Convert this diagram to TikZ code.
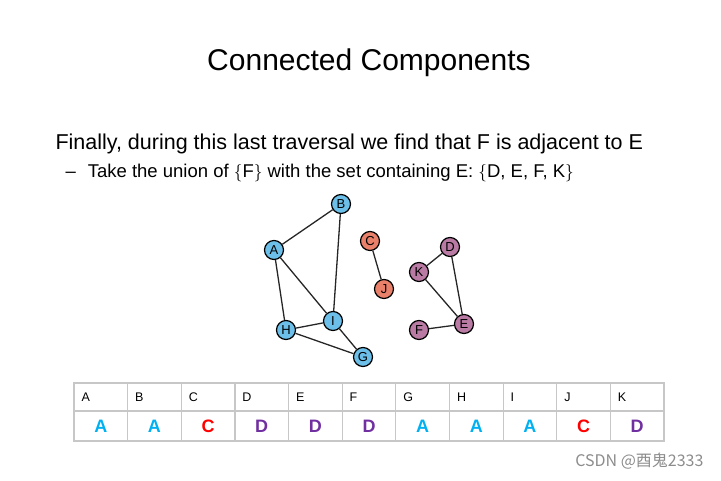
\documentclass[tikz,border=0pt]{standalone}
\usepackage{fontspec}
\setmainfont{Liberation Sans}
\newfontfamily\cjk{Noto Sans CJK SC}
\definecolor{nb}{HTML}{6CBFE8}
\definecolor{no}{HTML}{E8806A}
\definecolor{np}{HTML}{B97BA3}
\definecolor{tb}{HTML}{00B0F0}
\definecolor{tr}{HTML}{FF0000}
\definecolor{tp}{HTML}{7030A0}
\begin{document}
\begin{tikzpicture}[x=1pt,y=-1pt,
  v/.style={circle,draw=black,line width=1.2pt,minimum size=19pt,inner sep=0pt,font=\fontsize{13}{13}\selectfont},
  e/.style={line width=1.3pt,draw=black!85},
  hd/.style={font=\fontsize{12.5}{14}\selectfont,anchor=west},
  val/.style={font=\fontsize{18}{18}\selectfont\bfseries}]
\useasboundingbox (0,0) rectangle (721,480);
\node[font=\fontsize{30}{34}\selectfont] (title) at (369,63) {Connected Components};
\node[font=\fontsize{21.5}{25}\selectfont,anchor=west] (l1) at (52,144) {Finally, during this last traversal we find that F is adjacent to E};
\node[font=\fontsize{18.5}{22}\selectfont,anchor=west] (l2) at (62,173) {–\hspace{12pt}Take the union of $\{$F$\}$ with the set containing E: $\{$D, E, F, K$\}$};
\node[v,fill=nb] (B) at (341,204) {B};
\node[v,fill=nb] (A) at (274,250) {A};
\node[v,fill=nb] (I) at (333,321) {I};
\node[v,fill=nb] (H) at (286,330) {H};
\node[v,fill=nb] (G) at (363,357) {G};
\node[v,fill=no] (C) at (370,241) {C};
\node[v,fill=no] (J) at (384,289) {J};
\node[v,fill=np] (D) at (450,247) {D};
\node[v,fill=np] (K) at (419,272) {K};
\node[v,fill=np] (E) at (464,324) {E};
\node[v,fill=np] (F) at (419,330) {F};
\draw[e] (A)--(B) (B)--(I) (A)--(I) (A)--(H) (H)--(I) (H)--(G) (I)--(G) (C)--(J) (K)--(D) (D)--(E) (K)--(E) (F)--(E);
\draw[black!22,line width=1.2pt] (74,383) rectangle (664,441) (74,411)--(664,411);
\foreach \i/\h/\c/\t in {0/A/tb/A,1/B/tb/A,2/C/tr/C,3/D/tp/D,4/E/tp/D,5/F/tp/D,6/G/tb/A,7/H/tb/A,8/I/tb/A,9/J/tr/C,10/K/tp/D}{
  \pgfmathsetmacro\xl{74+\i*53.64}
  \ifnum\i>0 \draw[black!22,line width=1.2pt] (\xl,383)--(\xl,441);\fi
  \node[hd] (h\i) at (\xl+4,397) {\h};
  \node[val,text=\c] (t\i) at (\xl+26.8,426) {\t};
}
\node[font=\cjk\fontsize{16}{18}\selectfont,text=black!45,anchor=east] (wm) at (707,461) {CSDN @酉鬼2333};
\end{tikzpicture}
\end{document}
